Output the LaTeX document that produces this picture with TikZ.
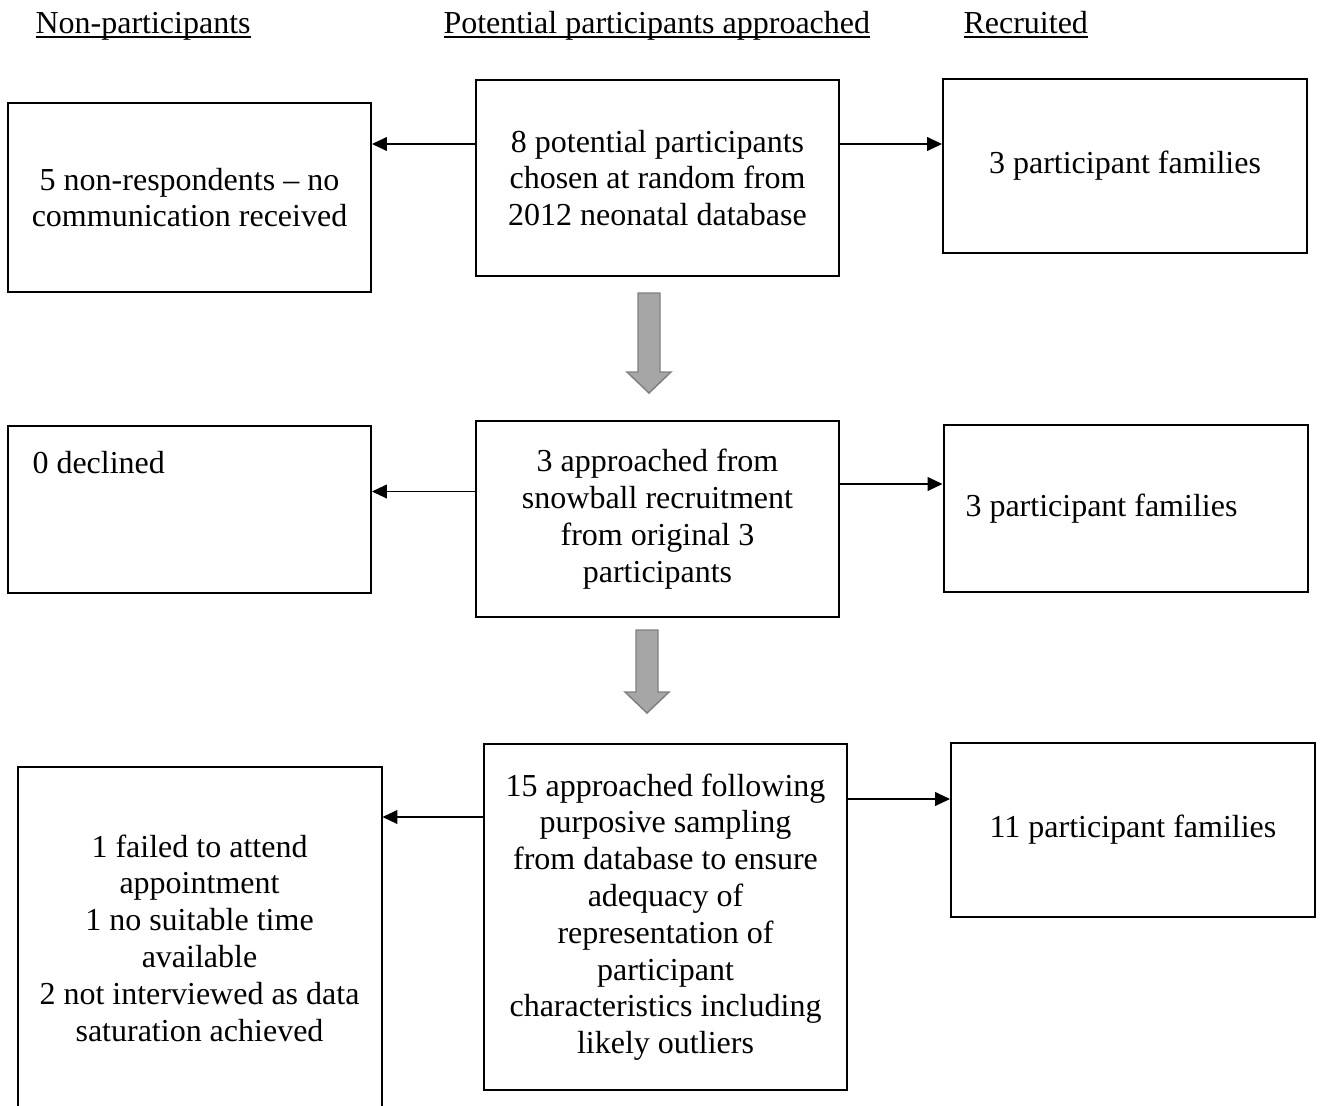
\documentclass[tikz,border=0pt]{standalone}
\usepackage{fontspec}
\setmainfont{Liberation Serif}
\usetikzlibrary{arrows.meta}
\newcommand{\pxu}{0.375pt}
\newcommand{\ulbar}[1]{\setbox0=\hbox{#1}\rlap{\rule[-1.75pt]{\wd0}{0.5pt}}\box0}
\tikzset{
  pics/downarrow/.style={code={
    \draw[bigarrow] (-11,0) -- (11,0) -- (11,{#1-21}) -- (22,{#1-21}) -- (0,#1)
      -- (-22,{#1-21}) -- (-11,{#1-21}) -- cycle;
  }}
}

\begin{document}
\begin{tikzpicture}[
    x=\pxu, y=-\pxu,
    font=\fontsize{12pt}{13.8pt}\selectfont,
    block/.style={draw=black, line width=0.75pt, align=center, inner sep=0pt},
    heading/.style={anchor=base west, inner sep=0pt},
    arrow/.style={-{Triangle[length=5.6pt, width=5.2pt]}, line width=0.4pt},
    bigarrow/.style={draw=black!50, fill=black!35, line width=0.55pt, line join=miter}
]
\path[fill=white] (0,0) rectangle (1322,1106);
\useasboundingbox (0,0) rectangle (1322,1106);

\node[heading] (hnon) at (35,33) {\ulbar{Non-participants}};
\node[heading] (happr) at (443,33) {\ulbar{Potential participants approached}};
\node[heading] (hrec) at (963,33) {\ulbar{Recruited}};

\node[block, minimum width=363*\pxu, minimum height=196*\pxu] (chosen) at (657.5,178)
  {8 potential participants\\chosen at random from\\2012 neonatal database};
\node[block, minimum width=363*\pxu, minimum height=189*\pxu] (nonresp) at (189.5,197.5)
  {5 non-respondents -- no\\communication received};
\node[block, minimum width=364*\pxu, minimum height=174*\pxu] (recruitA) at (1125,166)
  {3 participant families};

\node[block, minimum width=363*\pxu, minimum height=196*\pxu] (snowball) at (657.5,519)
  {3 approached from\\snowball recruitment\\from original 3\\participants};
\node[block, minimum width=363*\pxu, minimum height=167*\pxu,
      label={[heading, xshift=25*\pxu, yshift=-48*\pxu]north west:0 declined}] (declined) at (189.5,509.5) {};
\node[block, minimum width=364*\pxu, minimum height=167*\pxu, text width=320*\pxu,
      inner xsep=22*\pxu, align=flush left] (recruitB) at (1125.5,508.5)
  {3 participant families};

\node[block, minimum width=363*\pxu, minimum height=346*\pxu] (purposive) at (665.5,917)
  {15 approached following\\purposive sampling\\from database to ensure\\adequacy of\\representation of\\participant\\characteristics including\\likely outliers};
\node[block, minimum width=364*\pxu, minimum height=342*\pxu] (unavail) at (199.5,938)
  {1 failed to attend\\appointment\\1 no suitable time\\available\\2 not interviewed as data\\saturation achieved};
\node[block, minimum width=364*\pxu, minimum height=174*\pxu] (recruitC) at (1133,830)
  {11 participant families};

\draw[arrow] (chosen.west |- 0,144) -- (nonresp.east |- 0,144);
\draw[arrow] (chosen.east |- 0,144) -- (recruitA.west |- 0,144);
\draw[arrow] (snowball.west |- 0,491.5) -- (declined.east |- 0,491.5);
\draw[arrow] (snowball.east |- 0,484) -- (recruitB.west |- 0,484);
\draw[arrow] (purposive.west |- 0,817) -- (unavail.east |- 0,817);
\draw[arrow] (purposive.east |- 0,799) -- (recruitC.west |- 0,799);

\pic at ([xshift=-8.5*\pxu, yshift=-16*\pxu]chosen.south) {downarrow=100};
\pic at ([xshift=-10.5*\pxu, yshift=-12*\pxu]snowball.south) {downarrow=83};
\end{tikzpicture}
\end{document}
